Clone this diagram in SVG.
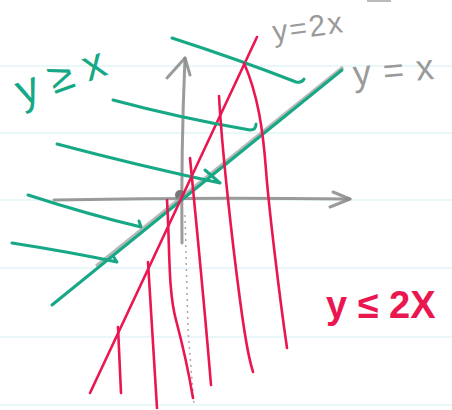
<svg xmlns="http://www.w3.org/2000/svg" width="452" height="410" viewBox="0 0 452 410">
<style>
.rule{stroke:#d6eff3;stroke-width:1.2;fill:none}
.ax{stroke:#8a8a8a;stroke-width:3;fill:none;stroke-linecap:round;stroke-linejoin:round;opacity:.85}
.gr{stroke:#17a886;stroke-width:3;fill:none;stroke-linecap:round;stroke-linejoin:round}
.rd{stroke:#ea1650;stroke-width:2.6;fill:none;stroke-linecap:round;stroke-linejoin:round}
.t{font-family:"Liberation Sans",Arial,sans-serif}
</style>
<rect width="452" height="410" fill="#ffffff"/>
<g id="paper">
<line class="rule" x1="0" y1="66" x2="452" y2="66"/>
<line class="rule" x1="0" y1="133" x2="452" y2="133"/>
<line class="rule" x1="0" y1="200" x2="452" y2="200"/>
<line class="rule" x1="0" y1="268" x2="452" y2="268"/>
<line class="rule" x1="0" y1="337" x2="452" y2="337"/>
<line class="rule" x1="0" y1="405" x2="452" y2="405"/>
<path d="M367,1 L391,1" stroke="#bbbbbb" stroke-width="2" fill="none"/>
</g>
<g id="axes">
<path class="ax" d="M54,200 Q200,197 350,199"/>
<path class="ax" d="M333,192 L350,199 L330,207"/>
<path class="ax" d="M182,243 Q181,150 185,58"/>
<path class="ax" d="M167,78 L185,58 L190,75"/>
<path d="M185,215 L188,330 L194,405" stroke="#b8a0a8" stroke-width="1.5" stroke-dasharray="2 4" fill="none"/>
<circle cx="180" cy="195" r="5" fill="#777"/>
</g>
<g id="line-y-eq-x">
<path d="M343,67 L96,266" stroke="#9a9a9a" stroke-width="3" fill="none" opacity=".7"/>
<path class="gr" d="M342,70 L52,305"/>
</g>
<g id="line-y-eq-2x">
<path class="rd" d="M257,37 Q175,210 90,393"/>
</g>
<g id="hatch-green">
<path class="gr" d="M172,38 Q240,60 296,82 Q302,83 304,79"/>
<path class="gr" d="M113,100 Q180,118 250,130 Q256,130 256,124"/>
<path class="gr" d="M57,144 Q140,166 220,183 M205,170 L220,183"/>
<path class="gr" d="M28,195 Q90,215 141,227 L139,221"/>
<path class="gr" d="M12,243 Q70,252 117,262 L113,256"/>
</g>
<g id="hatch-red">
<path class="rd" d="M244,63 C258,95 263,130 266,170 S280,300 287,348"/>
<path class="rd" d="M219,96 C222,150 232,240 240,300 S250,360 253,372"/>
<path class="rd" d="M190,158 C196,220 204,300 211,385"/>
<path class="rd" d="M167,200 C170,250 168,290 176,320 S190,380 193,398"/>
<path class="rd" d="M148,262 L157,408"/>
<path class="rd" d="M118,327 L121,393"/>
</g>
<g id="labels">
<text class="t" x="22" y="106" font-size="44" fill="#17a886" transform="rotate(-20 22 106)">y ≥ x</text>
<text class="t" x="274" y="42" font-size="30" fill="#9a9a9a" letter-spacing="2" transform="rotate(-8 274 42)">y=2x</text>
<text class="t" x="354" y="86" font-size="36" fill="#9a9a9a" letter-spacing="1" transform="rotate(-5 354 86)">y = x</text>
<text class="t" x="326" y="318" font-size="38" font-weight="bold" fill="#ea1650">y ≤ 2X</text>
</g>
</svg>
